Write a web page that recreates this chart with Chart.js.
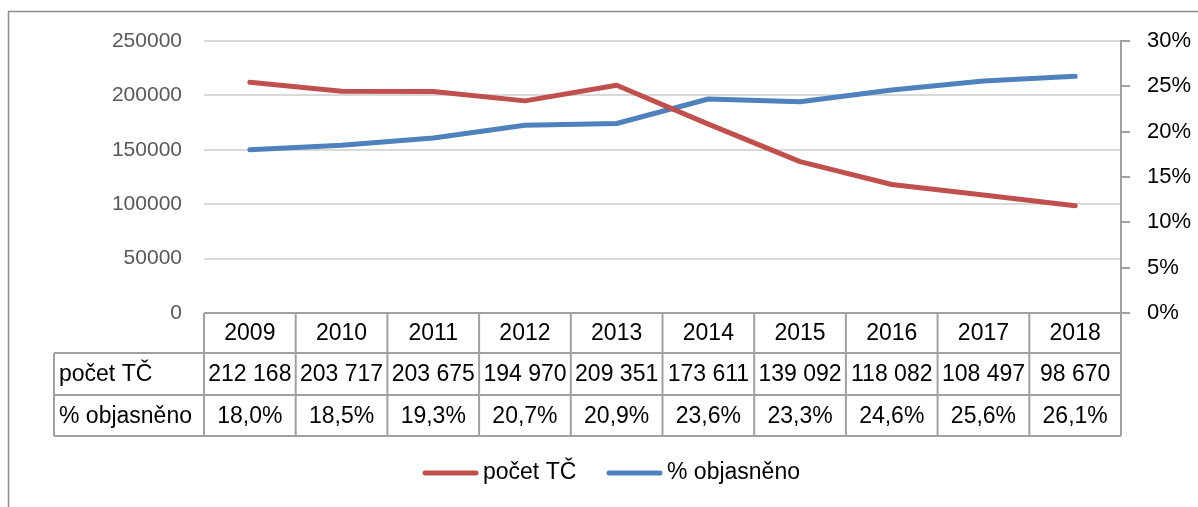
<!DOCTYPE html>
<html>
<head>
<meta charset="utf-8">
<script src="https://cdn.jsdelivr.net/npm/chart.js@4.4.0/dist/chart.umd.min.js"></script>
<style>
  html, body { margin: 0; padding: 0; background: #fff; }
  canvas { display: block; }
</style>
</head>
<body>
<canvas id="chart" width="1198" height="507"></canvas>
<script>
const years = ["2009", "2010", "2011", "2012", "2013", "2014", "2015", "2016", "2017", "2018"];
const pocetTC = [212168, 203717, 203675, 194970, 209351, 173611, 139092, 118082, 108497, 98670];
const objasneno = [18.0, 18.5, 19.3, 20.7, 20.9, 23.6, 23.3, 24.6, 25.6, 26.1];
const seriesLabels = ["počet TČ", "% objasněno"];
const seriesColors = ["#c0504d", "#4f81bd"];

const FONT = "'Liberation Sans', Arial, sans-serif";

function formatCount(value) {
  return String(value).replace(/\B(?=(\d{3})+(?!\d))/g, " ");
}

function formatPct(value) {
  return value.toFixed(1).replace(".", ",") + "%";
}

const tablePlugin = {
  id: "dataTable",
  beforeDraw(chart) {
    const { ctx } = chart;
    ctx.save();
    ctx.strokeStyle = "#8c8c8c";
    ctx.lineWidth = 1.5;
    ctx.strokeRect(8.5, 11.5, 1200, 510);
    ctx.restore();
  },
  afterDraw(chart) {
    const { ctx, chartArea } = chart;
    const x = chart.scales.x;
    const colW = chartArea.width / years.length;
    const labelLeft = 54;
    const rowY = [chartArea.bottom, chartArea.bottom + 40, chartArea.bottom + 82, chartArea.bottom + 123];

    ctx.save();
    ctx.strokeStyle = "#a0a0a0";
    ctx.lineWidth = 2;
    ctx.beginPath();
    // horizontal lines
    ctx.moveTo(chartArea.left, rowY[0]);
    ctx.lineTo(chartArea.right, rowY[0]);
    for (let r = 1; r < rowY.length; r += 1) {
      ctx.moveTo(labelLeft, rowY[r]);
      ctx.lineTo(chartArea.right, rowY[r]);
    }
    // vertical lines
    for (let i = 0; i <= years.length; i += 1) {
      const cx = chartArea.left + i * colW;
      ctx.moveTo(cx, rowY[0]);
      ctx.lineTo(cx, rowY[3]);
    }
    ctx.moveTo(labelLeft, rowY[1]);
    ctx.lineTo(labelLeft, rowY[3]);
    ctx.stroke();

    ctx.fillStyle = "#000";
    ctx.font = "23px " + FONT;
    ctx.textBaseline = "middle";
    ctx.textAlign = "center";
    years.forEach((year, i) => {
      const cx = x.getPixelForValue(i);
      ctx.fillText(year, cx, (rowY[0] + rowY[1]) / 2 + 1);
      ctx.fillText(formatCount(pocetTC[i]), cx, (rowY[1] + rowY[2]) / 2 + 1);
      ctx.fillText(formatPct(objasneno[i]), cx, (rowY[2] + rowY[3]) / 2 + 1);
    });
    ctx.textAlign = "left";
    ctx.fillText(seriesLabels[0], labelLeft + 5, (rowY[1] + rowY[2]) / 2 + 1);
    ctx.fillText(seriesLabels[1], labelLeft + 5, (rowY[2] + rowY[3]) / 2 + 1);

    // legend
    const legendY = 473;
    const legendItems = [
      { x: 423, label: seriesLabels[0], color: seriesColors[0] },
      { x: 607, label: seriesLabels[1], color: seriesColors[1] },
    ];
    ctx.lineCap = "round";
    ctx.lineWidth = 5;
    legendItems.forEach((item) => {
      ctx.strokeStyle = item.color;
      ctx.beginPath();
      ctx.moveTo(item.x + 2, legendY);
      ctx.lineTo(item.x + 53, legendY);
      ctx.stroke();
      ctx.fillText(item.label, item.x + 60, legendY);
    });
    ctx.restore();
  },
};

new Chart(document.getElementById("chart"), {
  type: "line",
  data: {
    labels: years,
    datasets: [
      {
        label: seriesLabels[0],
        data: pocetTC,
        yAxisID: "y",
        borderColor: seriesColors[0],
        backgroundColor: seriesColors[0],
        borderWidth: 5,
        borderCapStyle: "round",
        borderJoinStyle: "round",
        pointRadius: 0,
        tension: 0,
      },
      {
        label: seriesLabels[1],
        data: objasneno,
        yAxisID: "y1",
        borderColor: seriesColors[1],
        backgroundColor: seriesColors[1],
        borderWidth: 5,
        borderCapStyle: "round",
        borderJoinStyle: "round",
        pointRadius: 0,
        tension: 0,
      },
    ],
  },
  options: {
    responsive: false,
    animation: false,
    layout: {
      padding: { top: 41, bottom: 194, left: 0, right: 0 },
    },
    plugins: {
      legend: { display: false },
      tooltip: { enabled: false },
    },
    scales: {
      x: {
        display: false,
        offset: true,
      },
      y: {
        position: "left",
        min: 0,
        max: 250000,
        afterFit: (scale) => {
          scale.width = 204;
        },
        ticks: {
          stepSize: 50000,
          padding: 22,
          color: "#595959",
          font: { family: FONT, size: 21 },
          callback: (value) => String(value),
        },
        grid: {
          color: "#d9d9d9",
          lineWidth: 2,
          drawTicks: false,
        },
        border: { display: false },
      },
      y1: {
        position: "right",
        min: 0,
        max: 30,
        afterFit: (scale) => {
          scale.width = 77;
        },
        ticks: {
          stepSize: 5,
          padding: 17,
          crossAlign: "near",
          color: "#000",
          font: { family: FONT, size: 22 },
          callback: (value) => value + "%",
        },
        grid: {
          drawOnChartArea: false,
          color: "#a0a0a0",
          lineWidth: 2,
          tickLength: 9,
        },
        border: { display: true, color: "#a0a0a0", width: 2 },
      },
    },
  },
  plugins: [tablePlugin],
});
</script>
</body>
</html>
